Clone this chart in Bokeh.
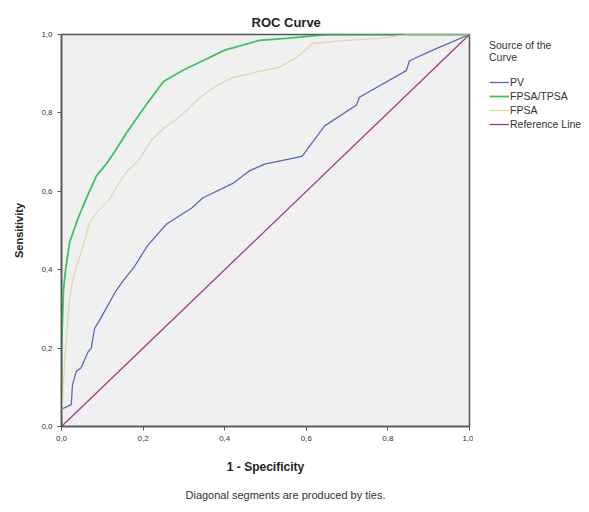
from bokeh.plotting import figure
from bokeh.layouts import row
from bokeh.models import Range1d, Legend, LegendItem, Title, CustomJSTickFormatter, FixedTicker
from bokeh.embed import file_html
from bokeh.resources import INLINE

# Data
pv_x = [0, 0.002, 0.024, 0.027, 0.036, 0.048, 0.065, 0.073, 0.081, 0.093, 0.13, 0.15, 0.18, 0.21,
        0.257, 0.32, 0.346, 0.42, 0.46, 0.50, 0.575, 0.59, 0.645, 0.723, 0.73, 0.845, 0.853, 0.91, 1.0]
pv_y = [0, 0.045, 0.056, 0.107, 0.14, 0.15, 0.19, 0.2, 0.25, 0.27, 0.34, 0.37, 0.41, 0.46,
        0.516, 0.558, 0.583, 0.62, 0.652, 0.67, 0.686, 0.69, 0.767, 0.82, 0.84, 0.908, 0.933, 0.96, 1.0]

ratio_x = [0, 0, 0.005, 0.01, 0.02, 0.04, 0.06, 0.086, 0.11, 0.13, 0.16, 0.2, 0.25, 0.3, 0.34, 0.4,
           0.485, 0.55, 0.65, 0.8, 1.0]
ratio_y = [0, 0.2, 0.35, 0.40, 0.47, 0.53, 0.58, 0.64, 0.67, 0.70, 0.75, 0.81, 0.88, 0.91, 0.93, 0.96,
           0.985, 0.99, 1.0, 1.0, 1.0]

fpsa_x = [0, 0.005, 0.01, 0.02, 0.027, 0.04, 0.05, 0.069, 0.09, 0.118, 0.14, 0.16, 0.19, 0.22, 0.25,
          0.29, 0.34, 0.38, 0.42, 0.48, 0.53, 0.575, 0.615, 0.70, 0.78, 0.85, 0.92, 1.0]
fpsa_y = [0, 0.12, 0.2, 0.33, 0.37, 0.42, 0.45, 0.52, 0.55, 0.58, 0.62, 0.65, 0.68, 0.73, 0.76,
          0.79, 0.84, 0.87, 0.89, 0.905, 0.915, 0.94, 0.977, 0.985, 0.99, 1.0, 1.0, 1.0]

ref_x = [0, 1]
ref_y = [0, 1]

series_names = ["PV", "FPSA/TPSA", "FPSA", "Reference Line"]
series_colors = ["#5a6ab8", "#3cc264", "#ddd8b0", "#9c3c8c"]
series_widths = [1.3, 1.8, 1.3, 1.3]

ticks = [0, 0.2, 0.4, 0.6, 0.8, 1.0]

H = 510
TOP = 34
p = figure(width=473, height=H, output_backend="svg", toolbar_location=None,
           x_range=Range1d(0, 1), y_range=Range1d(0, 1),
           min_border_left=61, min_border_right=4, min_border_top=TOP, min_border_bottom=0)

p.border_fill_color = "white"
p.background_fill_color = "#f0f0f0"
p.outline_line_color = "#555555"
p.outline_line_width = 1.5
p.grid.visible = False

p.title.text = "ROC Curve"
p.title.align = "left"
p.title.offset = 190
p.title.text_font = "Liberation Sans"
p.title.text_font_size = "13px"
p.title.text_font_style = "bold"
p.title.text_color = "#222222"

fmt = CustomJSTickFormatter(code="return tick.toFixed(1).replace('.', ',');")
for ax in (p.xaxis[0], p.yaxis[0]):
    ax.ticker = FixedTicker(ticks=ticks)
    ax.formatter = fmt
    ax.minor_tick_line_color = None
    ax.major_tick_in = 0
    ax.major_tick_out = 4
    ax.axis_line_color = "#555555"
    ax.axis_line_width = 1.5
    ax.major_tick_line_color = "#555555"
    ax.major_label_text_font = "Liberation Sans"
    ax.major_label_text_font_size = "8px"
    ax.major_label_text_color = "#333333"
    ax.axis_label_text_font = "Liberation Sans"
    ax.axis_label_text_font_style = "bold"
    ax.axis_label_text_color = "#222222"

p.xaxis.axis_label = "1 - Specificity"
p.xaxis.axis_label_text_font_size = "12px"
p.xaxis.axis_label_standoff = 16
p.yaxis.axis_label = "Sensitivity"
p.yaxis.axis_label_text_font_size = "11px"
p.yaxis.axis_label_standoff = 13

curves = [(pv_x, pv_y), (ratio_x, ratio_y), (fpsa_x, fpsa_y), (ref_x, ref_y)]
for (xs, ys), c, w in zip(curves, series_colors, series_widths):
    p.line(xs, ys, line_color=c, line_width=w)

foot = Title(text="Diagonal segments are produced by ties.", align="left", offset=124,
             text_font="Liberation Sans", text_font_size="11px", text_font_style="normal",
             text_color="#333333", standoff=20)
p.add_layout(foot, "below")

# Legend panel (separate figure to the right of the plot frame);
# the series are drawn there too but out of its visible range, only as legend keys.
pl = figure(width=110, height=H, output_backend="svg", toolbar_location=None,
            x_axis_type=None, y_axis_type=None,
            x_range=Range1d(5, 6), y_range=Range1d(5, 6),
            min_border_left=11, min_border_right=0, min_border_top=TOP, min_border_bottom=0)
pl.outline_line_color = None
pl.background_fill_color = "white"
pl.border_fill_color = "white"
pl.grid.visible = False
items = []
for (xs, ys), name, c, w in zip(curves, series_names, series_colors, series_widths):
    r = pl.line(xs, ys, line_color=c, line_width=w)
    items.append(LegendItem(label=name, renderers=[r]))

legend = Legend(items=items, location="top_left")
legend.title = "Source of the\nCurve"
legend.title_text_font = "Liberation Sans"
legend.title_text_font_size = "10.5px"
legend.title_text_font_style = "normal"
legend.title_text_color = "#333333"
legend.title_standoff = 13
legend.label_text_font = "Liberation Sans"
legend.label_text_font_size = "10.5px"
legend.label_text_color = "#333333"
legend.glyph_width = 20
legend.glyph_height = 12
legend.label_height = 12
legend.spacing = 2
legend.label_standoff = 1
legend.padding = 2
legend.margin = 5
legend.border_line_color = None
legend.background_fill_alpha = 0
pl.add_layout(legend)

layout = row(p, pl)
open("out.html", "w").write(file_html(layout, INLINE))
